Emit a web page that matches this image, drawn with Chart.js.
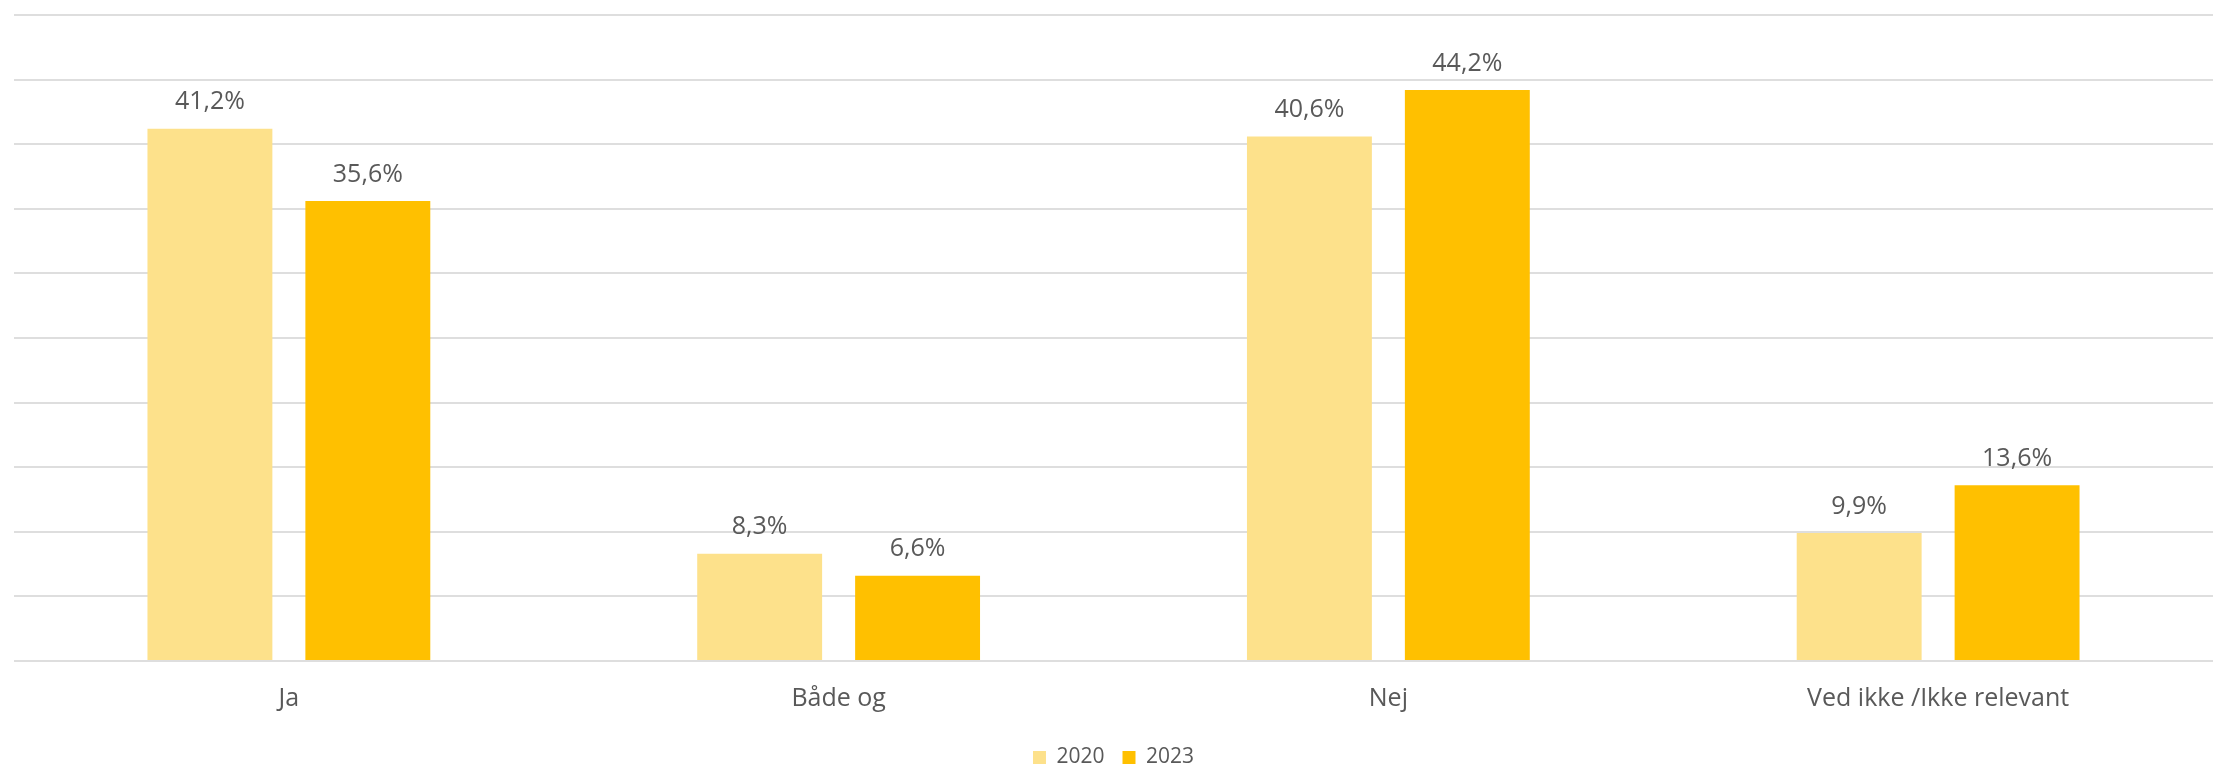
<!DOCTYPE html>
<html>
<head>
<meta charset="utf-8">
<script src="https://cdn.jsdelivr.net/npm/chart.js@4"></script>
<style>
  html, body { margin: 0; padding: 0; background: #fff; overflow: hidden; }
  #wrap { width: 2213px; height: 778px; }
</style>
</head>
<body>
<div id="wrap"><canvas id="chart"></canvas></div>
<script>
const categories = ["Ja", "Både og", "Nej", "Ved ikke /Ikke relevant"];
const values2020 = [41.2, 8.3, 40.6, 9.9];
const values2023 = [35.6, 6.6, 44.2, 13.6];
const seriesNames = ["2020", "2023"];

// draws "41,2%" style labels above each bar
const barLabels = {
      id: 'barLabels',
      afterDatasetsDraw(chart) {
            const ctx = chart.ctx;
            ctx.save();
            ctx.font = '25px "Open Sans", "Liberation Sans", sans-serif';
            ctx.fillStyle = '#595959';
            ctx.textAlign = 'center';
            ctx.textBaseline = 'bottom';
            chart.data.datasets.forEach(function (ds, i) {
                  chart.getDatasetMeta(i).data.forEach(function (bar, j) {
                        const txt = ds.data[j].toFixed(1).replace('.', ',') + '%';
                        ctx.fillText(txt, bar.x, bar.y - 14);
                  });
            });
            ctx.restore();
      }
};

new Chart(document.getElementById('chart'), {
      type: 'bar',
      data: {
            labels: categories,
            datasets: [{
                  label: seriesNames[0],
                  data: values2020,
                  backgroundColor: '#FDE18B'
            }, {
                  label: seriesNames[1],
                  data: values2023,
                  backgroundColor: '#FFC000'
            }]
      },
      options: {
            responsive: true,
            maintainAspectRatio: false,
            animation: false,
            categoryPercentage: 0.5745,
            barPercentage: 0.791,
            layout: {
                  padding: { left: 14, right: 0, top: 15, bottom: 0 }
            },
            scales: {
                  y: {
                        min: 0,
                        max: 50,
                        ticks: { stepSize: 5, display: false },
                        grid: { color: '#dedede', lineWidth: 2, drawTicks: false },
                        border: { display: false }
                  },
                  x: {
                        grid: { display: false },
                        border: { display: false },
                        ticks: {
                              color: '#595959',
                              padding: 15,
                              font: { size: 25, family: '"Open Sans", "Liberation Sans", sans-serif' }
                        }
                  }
            },
            plugins: {
                  tooltip: { enabled: false },
                  legend: {
                        position: 'bottom',
                        labels: {
                              color: '#595959',
                              boxWidth: 13,
                              boxHeight: 13,
                              padding: 18,
                              font: { size: 21, family: '"Open Sans", "Liberation Sans", sans-serif' }
                        }
                  }
            }
      },
      plugins: [barLabels]
});
</script>
</body>
</html>
